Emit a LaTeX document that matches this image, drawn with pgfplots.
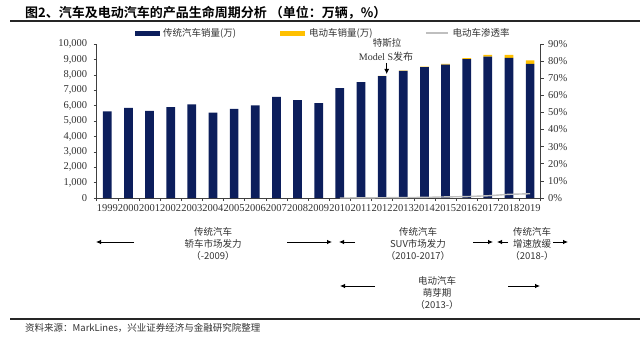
\documentclass[border=0pt]{standalone}
\usepackage{pgfplots}
\pgfplotsset{compat=1.18}
\usepackage{pgfplotstable}
\usetikzlibrary{arrows.meta}
\usepackage{fontspec}
\setmainfont{Liberation Serif}
\newfontfamily\cjk{Noto Sans CJK SC}[BoldFont={Noto Sans CJK SC Bold}]
\definecolor{navy}{RGB}{12,30,92}
\definecolor{gold}{RGB}{255,192,0}
\definecolor{lgray}{RGB}{191,191,191}
\definecolor{txt}{RGB}{50,50,50}

\pgfplotstableread{
idx year ice ev
0 1999 5620 0
1 2000 5850 0
2 2001 5650 0
3 2002 5900 0
4 2003 6080 0
5 2004 5540 0
6 2005 5780 0
7 2006 6020 0
8 2007 6560 0
9 2008 6350 0
10 2009 6160 0
11 2010 7130 1
12 2011 7520 4
13 2012 7920 12
14 2013 8250 20
15 2014 8500 32
16 2015 8660 55
17 2016 9010 75
18 2017 9180 120
19 2018 9100 200
20 2019 8710 220
}\sales

\pgfplotstableread{
idx pen
11 0.01
12 0.05
13 0.15
14 0.24
15 0.37
16 0.63
17 0.83
18 1.29
19 2.15
20 2.50
}\pen

\begin{document}
\begin{tikzpicture}
\useasboundingbox (0,0) rectangle (640pt,338pt);
\pgfplotsset{
  common/.style={
    at={(96.7pt,140pt)}, anchor=south west,
    scale only axis, width=444pt, height=154pt,
    xmin=-0.5, xmax=20.5,
    tick align=outside,
    major tick length=3pt, minor tick length=3pt,
    axis line style={black!75, line width=0.6pt},
    tick style={black!75, line width=0.6pt},
    ticklabel style={font=\fontsize{10.5}{12}\selectfont, text=txt},
    scaled y ticks=false,
    /pgf/number format/assume math mode=true,
    /pgf/number format/1000 sep={,},
  }
}
\begin{axis}[common,
  ymin=0, ymax=10000,
  ybar stacked, bar width=8.7pt,
  axis x line*=bottom, axis y line*=left,
  ytick={0,1000,...,10000},
  yticklabel style={xshift=-3pt},
  xtick={0,...,20},
  xticklabels={1999,2000,2001,2002,2003,2004,2005,2006,2007,2008,2009,2010,2011,2012,2013,2014,2015,2016,2017,2018,2019},
  major x tick style={draw=none},
  minor xtick={-0.5,0.5,...,20.5},
  legend columns=3,
  legend style={at={(0.0863,1.0714)}, anchor=west, draw=none, fill=none,
    inner sep=0pt, nodes={inner sep=0pt, text=txt},
    font=\cjk\fontsize{9.5}{11}\selectfont,
    /tikz/every odd column/.append style={column sep=0pt},
    /tikz/every even column/.append style={column sep=0pt}},
]
\addplot[fill=navy, draw=none,
  legend image code/.code={\fill[navy] (0pt,-2.5pt) rectangle (25pt,2.5pt);}]
  table[x=idx, y=ice] {\sales};
\addlegendentry{\makebox[120pt][l]{\hspace{3pt}传统汽车销量(万)}}
\addplot[fill=gold, draw=none,
  legend image code/.code={\fill[gold] (0pt,-2.5pt) rectangle (25pt,2.5pt);}]
  table[x=idx, y=ev] {\sales};
\addlegendentry{\makebox[120pt][l]{\hspace{4pt}电动车销量(万)}}
\addlegendimage{legend image code/.code={\draw[lgray, line width=1.4pt] (0pt,0pt) -- (22pt,0pt);}}
\addlegendentry{\hspace{4pt}电动车渗透率}
\end{axis}

\begin{axis}[common,
  ymin=0, ymax=90,
  axis y line*=right, axis x line=none,
  ytick={0,10,...,90},
  yticklabel style={xshift=1pt},
  yticklabel={\pgfmathprintnumber{\tick}\%},
]
\addplot[lgray, line width=1.4pt, mark=none] table[x=idx, y=pen] {\pen};
\end{axis}

% title and rules
\node[anchor=west, inner sep=0pt, text=black] at (25pt,325pt)
  {\cjk\bfseries\fontsize{13}{15}\selectfont 图2、汽车及电动汽车的产品生命周期分析 （单位：万辆，\%）};
\draw[line width=1.6pt, black!85] (10pt,317pt) -- (640pt,317pt);
\draw[line width=1.6pt, black!85] (10pt,19pt) -- (640pt,19pt);
\node[anchor=west, inner sep=0pt, text=txt] at (25pt,10pt)
  {\cjk\fontsize{9.5}{11}\selectfont 资料来源：MarkLines，兴业证券经济与金融研究院整理};

% Tesla annotation
\node[inner sep=0pt, text=txt] at (387pt,295pt) {\cjk\fontsize{9.5}{11}\selectfont 特斯拉};
\node[inner sep=0pt, text=txt] at (386pt,281pt) {\fontsize{10}{11}\selectfont Model S\cjk 发布};
\draw[-{Latex[length=5pt,width=5pt]}, line width=0.8pt] (386.7pt,275pt) -- (386.7pt,264pt);

% period annotations
\tikzset{ann/.style={align=center, inner sep=0pt, text=txt, font=\cjk\fontsize{9.5}{12}\selectfont},
         arr/.style={-{Latex[length=5pt,width=4.5pt]}, line width=0.8pt, black}}
\node[ann] at (213pt,94pt) {传统汽车\\轿车市场发力\\（-2009）};
\draw[arr] (134pt,96pt) -- (96pt,96pt);
\draw[arr] (287pt,96pt) -- (332pt,96pt);
\node[ann] at (418pt,94pt) {传统汽车\\SUV市场发力\\（2010-2017）};
\draw[arr] (355pt,96pt) -- (339pt,96pt);
\draw[arr] (473pt,96pt) -- (493pt,96pt);
\node[ann] at (532pt,94pt) {传统汽车\\增速放缓\\（2018-）};
\draw[arr] (508pt,96pt) -- (497pt,96pt);
\draw[arr] (553pt,96pt) -- (568pt,96pt);
\node[ann] at (437pt,45.5pt) {电动汽车\\萌芽期\\（2013-）};
\draw[arr] (375pt,52pt) -- (340pt,52pt);
\draw[arr] (508pt,52pt) -- (540pt,52pt);
\end{tikzpicture}
\end{document}
